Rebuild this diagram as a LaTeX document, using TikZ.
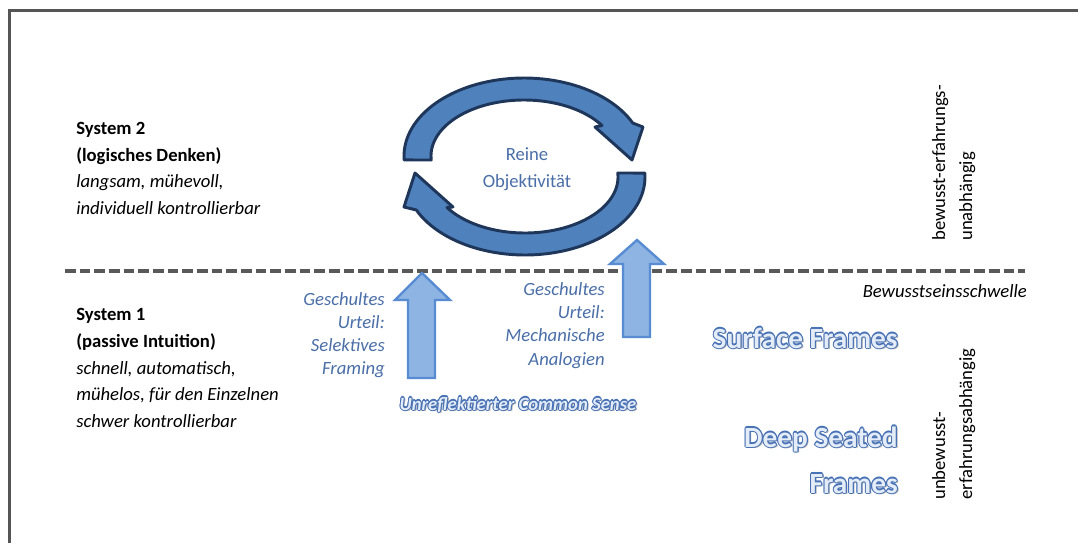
\documentclass[tikz,border=0pt]{standalone}
\usepackage{fontspec}
\setmainfont{Carlito}
\definecolor{framegray}{RGB}{85,85,85}
\definecolor{dashgray}{RGB}{89,89,89}
\definecolor{cafill}{RGB}{79,129,189}
\definecolor{caline}{RGB}{30,54,90}
\definecolor{labelblue}{RGB}{74,110,168}
\definecolor{upfill}{RGB}{141,180,226}
\definecolor{upline}{RGB}{88,140,210}
\definecolor{glowfill}{RGB}{228,236,247}
\definecolor{glowline}{RGB}{72,114,182}
\newcommand\glowtext[4]{%
  \node[#3, text=black, text opacity=0.28] (#1sh) at ([shift={(1.8,1.8)}]#2) {#4};
  \foreach \gx/\gy [count=\gi] in {1.1/0, -1.1/0, 0/1.1, 0/-1.1, 0.78/0.78, 0.78/-0.78, -0.78/0.78, -0.78/-0.78}
    \node[#3, text=glowline] (#1o\gi) at ([shift={(\gx,\gy)}]#2) {#4};
  \node[#3, text=glowfill] (#1) at (#2) {#4};
}
\begin{document}
\begin{tikzpicture}[x=0.75pt,y=-0.75pt,
  txt/.style={inner sep=0pt, font=\fontsize{14}{20}\selectfont},
  bluetxt/.style={inner sep=0pt, font=\fontsize{14}{17}\selectfont\itshape, text=labelblue},
  reinetxt/.style={inner sep=0pt, font=\fontsize{14}{20}\selectfont, text=labelblue},
  bigglow/.style={inner sep=0pt, font=\fontsize{22}{26}\selectfont\bfseries},
  smallglow/.style={inner sep=0pt, font=\fontsize{14}{17}\selectfont\bfseries\itshape},
  frameline/.style={draw=framegray, line width=1.6pt},
  dashline/.style={draw=dashgray, line width=2.6pt, dash pattern=on 8pt off 3pt},
  carrow/.style={fill=cafill, draw=caline, line width=2.2pt, line join=round},
  uparrow/.style={fill=upfill, draw=upline, line width=1.8pt, line join=miter}
]
\useasboundingbox (0,0) rectangle (1078,543);
\fill[white] (0,0) rectangle (1078,543);

% frame
\coordinate (fbl) at (9.5,543);
\coordinate (ftl) at (9.5,10.5);
\coordinate (ftr) at (1078,10.5);
\draw[frameline] (fbl) -- (ftl) -- (ftr);

% threshold line
\coordinate (thL) at (65,271);
\coordinate (thR) at (1025,271);
\draw[dashline] (thL) -- (thR);

% circular arrows
\path[carrow] plot[domain=177.1:335, samples=60] ({524+120*cos(\x)},{156+78*sin(\x)})
  -- (643,127) -- (632,160) -- (595,127)
  -- plot[domain=327:175.9, samples=60] ({524+93*cos(\x)},{156+56*sin(\x)}) -- cycle;
\path[carrow] plot[domain=-2.9:155, samples=60] ({525+120*cos(\x)},{177+78*sin(\x)})
  -- (404,207) -- (415,173) -- (453,207)
  -- plot[domain=147:-4.1, samples=60] ({525+93*cos(\x)},{177+56*sin(\x)}) -- cycle;

\node[reinetxt, anchor=base] (reine1) at (527,160) {Reine};
\node[reinetxt, anchor=base] (reine2) at (527,187) {Objektivität};

% up arrows
\path[uparrow] (408,378) -- (408,300) -- (395,300) -- (422,273) -- (450,300) -- (435,300) -- (435,378) -- cycle;
\path[uparrow] (623,337) -- (623,264) -- (610,264) -- (637,240) -- (664,264) -- (650,264) -- (650,337) -- cycle;

% System 2
\node[txt, anchor=base west, font=\fontsize{14}{20}\selectfont\bfseries] (s2a) at (76,134) {System 2};
\node[txt, anchor=base west, font=\fontsize{14}{20}\selectfont\bfseries] (s2b) at (76,161) {(logisches Denken)};
\node[txt, anchor=base west, font=\fontsize{14}{20}\selectfont\itshape] (s2c) at (76,187.5) {langsam, mühevoll,};
\node[txt, anchor=base west, font=\fontsize{14}{20}\selectfont\itshape] (s2d) at (76,214) {individuell kontrollierbar};

% System 1
\node[txt, anchor=base west, font=\fontsize{14}{20}\selectfont\bfseries] (s1a) at (76,320) {System 1};
\node[txt, anchor=base west, font=\fontsize{14}{20}\selectfont\bfseries] (s1b) at (76,347) {(passive Intuition)};
\node[txt, anchor=base west, font=\fontsize{14}{20}\selectfont\itshape] (s1c) at (76,374) {schnell, automatisch,};
\node[txt, anchor=base west, font=\fontsize{14}{20}\selectfont\itshape] (s1d) at (76,400.5) {mühelos, für den Einzelnen};
\node[txt, anchor=base west, font=\fontsize{14}{20}\selectfont\itshape] (s1e) at (76,427) {schwer kontrollierbar};

% blue labels
\node[bluetxt, anchor=base east] (g1a) at (385,305) {Geschultes};
\node[bluetxt, anchor=base east] (g1b) at (385,328) {Urteil:};
\node[bluetxt, anchor=base east] (g1c) at (385,351) {Selektives};
\node[bluetxt, anchor=base east] (g1d) at (385,374) {Framing};

\node[bluetxt, anchor=base east] (g2a) at (605,295) {Geschultes};
\node[bluetxt, anchor=base east] (g2b) at (605,318) {Urteil:};
\node[bluetxt, anchor=base east] (g2c) at (605,341.5) {Mechanische};
\node[bluetxt, anchor=base east] (g2d) at (605,365) {Analogien};

% threshold label
\node[txt, anchor=base east, font=\fontsize{14}{20}\selectfont\itshape] (schwelle) at (1027,297) {Bewusstseinsschwelle};

% rotated labels
\node[txt, rotate=90, anchor=base west] (bew1) at (945,241) {bewusst-erfahrungs-};
\node[txt, rotate=90, anchor=base west] (bew2) at (972,241) {unabhängig};
\node[txt, rotate=90, anchor=base west] (unb1) at (945,500) {unbewusst-};
\node[txt, rotate=90, anchor=base west] (unb2) at (972,500) {erfahrungsabhängig};

% glow texts
\glowtext{surf}{898,348}{bigglow, anchor=base east}{Surface Frames}
\glowtext{deep}{898,447}{bigglow, anchor=base east}{Deep Seated}
\glowtext{fram}{898,493}{bigglow, anchor=base east}{Frames}
\glowtext{common}{518,410}{smallglow, anchor=base}{Unreflektierter Common Sense}
\end{tikzpicture}
\end{document}
